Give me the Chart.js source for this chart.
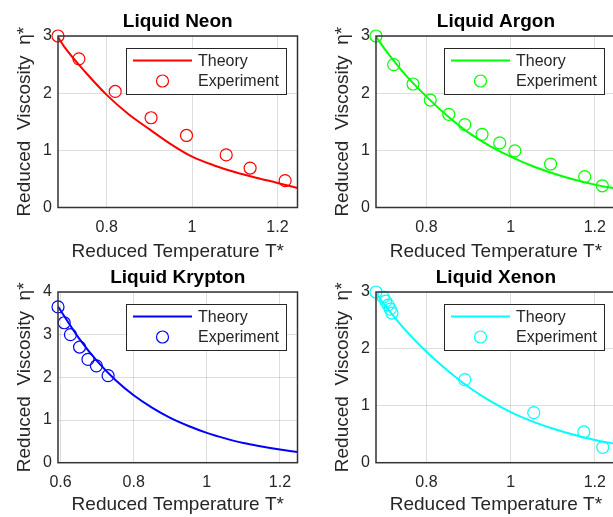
<!DOCTYPE html>
<html>
<head>
<meta charset="utf-8">
<script src="https://cdn.jsdelivr.net/npm/chart.js@4"></script>
<style>
  body { margin: 0; width: 613px; height: 517px; overflow: hidden; background: #fff; position: relative; }
  canvas { position: absolute; }
</style>
</head>
<body>
<canvas id="neon" width="305" height="264" style="left:0;top:0"></canvas>
<canvas id="argon" width="305" height="264" style="left:318px;top:0"></canvas>
<canvas id="krypton" width="305" height="261" style="left:0;top:256px"></canvas>
<canvas id="xenon" width="305" height="261" style="left:318px;top:256px"></canvas>
<script>
// tick labels
const xTicks = [0.8, 1, 1.2];
const kryptonXTicks = [0.6, 0.8, 1, 1.2];
const yTicks = [0, 1, 2, 3];
const kryptonYTicks = [0, 1, 2, 3, 4];

// Liquid Neon
const neonTheoryT   = [0.686, 0.70, 0.75, 0.80, 0.85, 0.90, 0.95, 1.00, 1.05, 1.10, 1.15, 1.20, 1.247];
const neonTheoryEta = [2.98, 2.82, 2.37, 1.97, 1.64, 1.37, 1.11, 0.89, 0.74, 0.62, 0.52, 0.43, 0.34];
const neonExpT   = [0.686, 0.735, 0.820, 0.904, 0.987, 1.080, 1.136, 1.218];
const neonExpEta = [3.0, 2.6, 2.03, 1.57, 1.26, 0.92, 0.69, 0.47];

// Liquid Argon
const argonTheoryT   = [0.68, 0.70, 0.75, 0.80, 0.85, 0.90, 0.95, 1.00, 1.05, 1.10, 1.15, 1.20, 1.25];
const argonTheoryEta = [2.99, 2.78, 2.32, 1.94, 1.60, 1.31, 1.08, 0.89, 0.73, 0.60, 0.49, 0.40, 0.33];
const argonExpT   = [0.68, 0.722, 0.768, 0.809, 0.853, 0.891, 0.932, 0.974, 1.010, 1.095, 1.176, 1.218];
const argonExpEta = [3.0, 2.5, 2.16, 1.88, 1.63, 1.45, 1.28, 1.13, 0.99, 0.76, 0.54, 0.38];

// Liquid Krypton
const kryptonTheoryT   = [0.593, 0.65, 0.70, 0.75, 0.80, 0.85, 0.90, 0.95, 1.00, 1.05, 1.10, 1.15, 1.20, 1.248];
const kryptonTheoryEta = [3.66, 2.92, 2.38, 1.94, 1.58, 1.29, 1.05, 0.86, 0.70, 0.57, 0.46, 0.38, 0.31, 0.25];
const kryptonExpT   = [0.593, 0.610, 0.627, 0.652, 0.675, 0.698, 0.730];
const kryptonExpEta = [3.65, 3.28, 3.0, 2.71, 2.42, 2.27, 2.04];

// Liquid Xenon
const xenonTheoryT   = [0.68, 0.70, 0.75, 0.80, 0.85, 0.90, 0.95, 1.00, 1.05, 1.10, 1.15, 1.20, 1.25];
const xenonTheoryEta = [2.98, 2.78, 2.33, 1.95, 1.62, 1.33, 1.09, 0.89, 0.73, 0.60, 0.49, 0.40, 0.33];
const xenonExpT   = [0.68, 0.697, 0.703, 0.709, 0.714, 0.718, 0.891, 1.055, 1.174, 1.219];
const xenonExpEta = [3.0, 2.91, 2.84, 2.77, 2.70, 2.63, 1.46, 0.88, 0.54, 0.27];

const fontFamily = "'Liberation Sans', Arial, sans-serif";
Chart.defaults.font.family = fontFamily;
Chart.defaults.color = '#262626';

function pairs(xs, ys) {
  return xs.map((x, i) => ({x: x, y: ys[i]}));
}

// box around the axes, like matlab "box on"
const frame = {
  id: 'frame',
  afterDatasetsDraw(chart) {
    const a = chart.chartArea;
    const ctx = chart.ctx;
    ctx.save();
    ctx.strokeStyle = '#333';
    ctx.lineWidth = 1.5;
    ctx.strokeRect(a.left, a.top, a.right - a.left, a.bottom - a.top);
    ctx.restore();
  }
};

// legend drawn inside the plot, top right
const legendBox = {
  id: 'legendBox',
  afterDraw(chart) {
    const ctx = chart.ctx;
    const ds = chart.data.datasets;
    const x = chart.chartArea.left + 68;
    const y = chart.chartArea.top + 12;
    ctx.save();
    ctx.fillStyle = '#fff';
    ctx.fillRect(x, y, 160, 46);
    ctx.strokeStyle = '#262626';
    ctx.lineWidth = 1;
    ctx.strokeRect(x + 0.5, y + 0.5, 160, 46);
    ctx.strokeStyle = ds[0].borderColor;
    ctx.lineWidth = 2;
    ctx.beginPath();
    ctx.moveTo(x + 7, y + 12.5);
    ctx.lineTo(x + 66, y + 12.5);
    ctx.stroke();
    ctx.strokeStyle = ds[1].borderColor;
    ctx.lineWidth = 1.2;
    ctx.beginPath();
    ctx.arc(x + 36.5, y + 33, 6, 0, Math.PI * 2);
    ctx.stroke();
    ctx.fillStyle = '#262626';
    ctx.font = '16px ' + fontFamily;
    ctx.textBaseline = 'middle';
    ctx.fillText(ds[0].label, x + 72, y + 13.5);
    ctx.fillText(ds[1].label, x + 72, y + 33.5);
    ctx.restore();
  }
};

function makePanel(id, p) {
  new Chart(document.getElementById(id), {
    type: 'scatter',
    data: {
      datasets: [
        { label: 'Theory', data: pairs(p.theoryT, p.theoryEta), showLine: true,
          borderColor: p.color, borderWidth: 2, pointRadius: 0,
          cubicInterpolationMode: 'monotone', order: 1 },
        { label: 'Experiment', data: pairs(p.expT, p.expEta),
          borderColor: p.color, backgroundColor: 'rgba(0,0,0,0)',
          pointRadius: 6, pointBorderWidth: 1.2, clip: false, order: 0 }
      ]
    },
    options: {
      responsive: false,
      animation: false,
      events: [],
      layout: { padding: { left: 0, right: p.padRight, top: 0, bottom: 0 } },
      plugins: {
        legend: { display: false },
        tooltip: { enabled: false },
        title: { display: true, text: p.title, color: '#000', fullSize: false,
                 font: { size: 19, weight: 'bold' }, padding: { top: 10.3, bottom: 2.9 } }
      },
      scales: {
        x: {
          type: 'linear', min: p.xMin, max: p.xMax,
          afterBuildTicks: s => { s.ticks = p.xTicks.map(v => ({value: v})); },
          afterFit: s => { s.height = p.xAxisH; },
          ticks: { callback: v => String(v), padding: 10.4, font: { size: 16 }, maxRotation: 0, autoSkip: false },
          grid: { color: 'rgba(0,0,0,0.13)', drawTicks: false },
          border: { display: false },
          title: { display: true, text: 'Reduced Temperature T*', font: { size: 19 },
                   padding: { top: 0, bottom: 1 } }
        },
        y: {
          type: 'linear', min: 0, max: p.yMax,
          afterBuildTicks: s => { s.ticks = p.yTicks.map(v => ({value: v})); },
          afterFit: s => { s.width = 58; },
          ticks: { callback: v => String(v), padding: 6, font: { size: 16 }, autoSkip: false },
          grid: { color: 'rgba(0,0,0,0.13)', drawTicks: false },
          border: { display: false },
          title: { display: true, text: 'Reduced  Viscosity  η*', font: { size: 19 },
                   padding: { top: 13.6, bottom: 0 } }
        }
      }
    },
    plugins: [frame, legendBox]
  });
}

makePanel('neon', { title: 'Liquid Neon', color: '#ff0000',
  theoryT: neonTheoryT, theoryEta: neonTheoryEta, expT: neonExpT, expEta: neonExpEta,
  xMin: 0.686, xMax: 1.247, xTicks: xTicks, yMax: 3, yTicks: yTicks, padRight: 7.5, xAxisH: 56.5 });

makePanel('argon', { title: 'Liquid Argon', color: '#00ff00',
  theoryT: argonTheoryT, theoryEta: argonTheoryEta, expT: argonExpT, expEta: argonExpEta,
  xMin: 0.68, xMax: 1.25, xTicks: xTicks, yMax: 3, yTicks: yTicks, padRight: 7, xAxisH: 56.5 });

makePanel('krypton', { title: 'Liquid Krypton', color: '#0000ff',
  theoryT: kryptonTheoryT, theoryEta: kryptonTheoryEta, expT: kryptonExpT, expEta: kryptonExpEta,
  xMin: 0.593, xMax: 1.248, xTicks: kryptonXTicks, yMax: 4, yTicks: kryptonYTicks, padRight: 7.5, xAxisH: 54.3 });

makePanel('xenon', { title: 'Liquid Xenon', color: '#00ffff',
  theoryT: xenonTheoryT, theoryEta: xenonTheoryEta, expT: xenonExpT, expEta: xenonExpEta,
  xMin: 0.68, xMax: 1.25, xTicks: xTicks, yMax: 3, yTicks: yTicks, padRight: 7, xAxisH: 54.3 });
</script>
</body>
</html>
